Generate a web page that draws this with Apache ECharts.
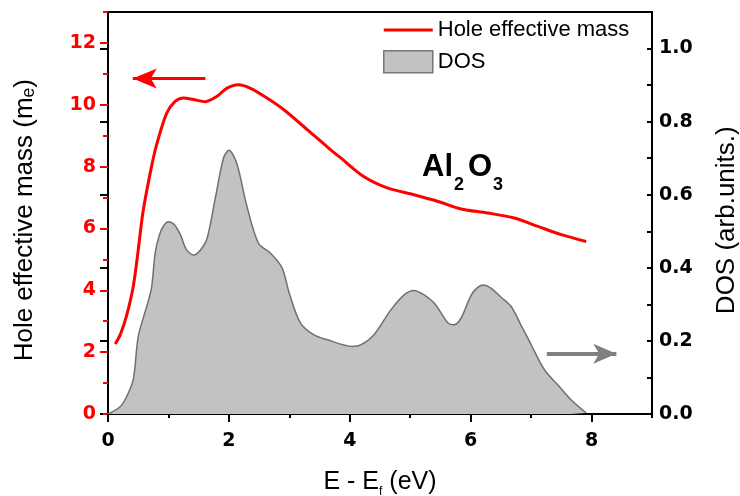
<!DOCTYPE html>
<html>
<head>
<meta charset="utf-8">
<script src="https://cdn.jsdelivr.net/npm/echarts@6/dist/echarts.min.js"></script>
<style>
  html, body { margin: 0; padding: 0; background: #fff; }
  #chart { width: 740px; height: 496px; }
</style>
</head>
<body>
<div id="chart"></div>
<script>
// Hole effective mass (m_e) versus E - E_f (eV)
const massEnergy = [0.12, 0.21, 0.31, 0.42, 0.50, 0.58, 0.72, 0.81, 0.97, 1.11, 1.25, 1.41, 1.61, 1.80, 1.97, 2.16,
  2.35, 2.63, 2.91, 3.30, 3.65, 3.85, 4.23, 4.62, 5.06, 5.45, 5.84, 6.28, 6.72, 7.11, 7.50, 7.91];
const holeMass = [2.26, 2.60, 3.20, 4.15, 5.30, 6.55, 8.00, 8.75, 9.72, 10.11, 10.22, 10.17, 10.10, 10.27, 10.54, 10.65,
  10.54, 10.22, 9.84, 9.19, 8.60, 8.28, 7.68, 7.31, 7.09, 6.88, 6.63, 6.50, 6.34, 6.07, 5.80, 5.58];

// Density of states (arb. units) versus E - E_f (eV)
const dosEnergy = [0.00, 0.20, 0.31, 0.42, 0.50, 0.64, 0.72, 0.78, 0.85, 0.92, 1.00, 1.10, 1.20, 1.30, 1.42, 1.53,
  1.64, 1.78, 1.91, 2.00, 2.13, 2.30, 2.49, 2.69, 2.88, 3.00, 3.18, 3.40, 3.63, 4.04, 4.18, 4.40, 4.68, 4.90, 5.06,
  5.23, 5.40, 5.62, 5.72, 5.84, 6.03, 6.20, 6.34, 6.50, 6.67, 6.83, 7.00, 7.22, 7.44, 7.66, 7.91];
const dosValues = [0.000, 0.020, 0.048, 0.096, 0.212, 0.294, 0.345, 0.440, 0.490, 0.515, 0.526, 0.518, 0.490, 0.449,
  0.435, 0.449, 0.481, 0.595, 0.700, 0.722, 0.686, 0.567, 0.467, 0.440, 0.400, 0.330, 0.250, 0.217, 0.203, 0.185,
  0.189, 0.217, 0.285, 0.326, 0.338, 0.326, 0.303, 0.250, 0.244, 0.262, 0.331, 0.353, 0.344, 0.320, 0.294, 0.244,
  0.190, 0.121, 0.080, 0.039, 0.003];

// Axis ranges
const energyRange = [0, 9];
const massRange = [0, 13];
const dosRange = [0, 1.1];

// Arrows pointing each curve to its axis (data coordinates, tail then tip)
const massArrow = [[1.61, 10.85], [0.41, 10.85]];
const dosArrow = [[7.26, 0.165], [8.41, 0.165]];

const RED = '#ff0000';
const tickFont = { fontFamily: 'DejaVu Sans', fontWeight: 'bold', fontSize: 19 };
const nameFont = 'Liberation Sans';
const NBSP = '\u00a0';

const chart = echarts.init(document.getElementById('chart'), null, { renderer: 'canvas' });

const massData = massEnergy.map((x, i) => [x, holeMass[i]]);
const dosData = dosEnergy.map((x, i) => [x, dosValues[i]]);

chart.setOption({
  animation: false,
  backgroundColor: '#fff',
  grid: {
    left: 108, right: 88, top: 12, bottom: 82,
    show: true, borderColor: '#000', borderWidth: 2,
    outerBoundsMode: 'none'
  },
  legend: {
    left: 383, top: 19, orient: 'vertical',
    itemWidth: 49, itemHeight: 22, itemGap: 9, padding: 0,
    selectedMode: false,
    textStyle: { fontFamily: nameFont, fontSize: 22, color: '#000' },
    data: [
      { name: 'Hole effective mass', icon: 'path://M0,0H49V3H0Z', itemStyle: { color: RED } },
      { name: 'DOS', icon: 'rect', itemStyle: { color: '#c2c2c2', borderColor: '#777', borderWidth: 1.5 } }
    ]
  },
  xAxis: [
    {
      type: 'value', min: energyRange[0], max: energyRange[1], interval: 2, position: 'bottom',
      axisLine: { lineStyle: { color: '#000', width: 2 } },
      axisTick: { length: 8, lineStyle: { color: '#000', width: 2 } },
      axisLabel: Object.assign({ color: '#000', margin: 18, showMaxLabel: false }, tickFont),
      splitLine: { show: false },
      name: '{m|E - E}{s|f}{m| (eV)}',
      nameLocation: 'middle', nameGap: 56, nameMoveOverlap: false,
      nameTextStyle: {
        rich: {
          m: { fontFamily: nameFont, fontSize: 25, lineHeight: 25, verticalAlign: 'top', color: '#000' },
          s: { fontFamily: nameFont, fontSize: 12, lineHeight: 12, verticalAlign: 'top', padding: [16, 0, 0, 0], color: '#000' }
        }
      }
    },
    {
      // minor ticks at every 1 eV
      type: 'value', min: energyRange[0], max: energyRange[1], interval: 1, position: 'bottom',
      axisLine: { show: false },
      axisTick: { length: 4, lineStyle: { color: '#000', width: 2 } },
      axisLabel: { show: false }, splitLine: { show: false }
    }
  ],
  yAxis: [
    {
      type: 'value', min: massRange[0], max: massRange[1], interval: 2, position: 'left',
      axisLine: { show: true, lineStyle: { color: RED, width: 2 } },
      axisTick: { show: true, length: 8, lineStyle: { color: RED, width: 2 } },
      axisLabel: Object.assign({ color: RED, margin: 12, showMaxLabel: false }, tickFont),
      splitLine: { show: false },
      // trailing no-break spaces nudge the centred title towards the axis start
      name: 'Hole effective mass (m\u2091)' + NBSP + NBSP,
      nameLocation: 'middle', nameGap: 70, nameMoveOverlap: false,
      nameTextStyle: { fontFamily: nameFont, fontSize: 26, lineHeight: 26, color: '#000' }
    },
    {
      type: 'value', min: dosRange[0], max: dosRange[1], interval: 0.2, position: 'right',
      axisLine: { show: true, lineStyle: { color: '#000', width: 2 } },
      axisTick: { show: true, inside: true, length: 8, lineStyle: { color: '#000', width: 2 } },
      axisLabel: Object.assign({ color: '#000', margin: 7, showMaxLabel: false,
        formatter: v => v.toFixed(1) }, tickFont),
      splitLine: { show: false },
      name: 'DOS (arb.units.)' + NBSP + NBSP,
      nameLocation: 'middle', nameGap: 62, nameMoveOverlap: false,
      nameTextStyle: { fontFamily: nameFont, fontSize: 26, lineHeight: 26, color: '#000' }
    },
    {
      // minor ticks on the effective-mass axis
      type: 'value', min: massRange[0], max: massRange[1], interval: 1, position: 'left',
      axisLine: { show: false },
      axisTick: { show: true, length: 5, lineStyle: { color: RED, width: 2 } },
      axisLabel: { show: false }, splitLine: { show: false }
    },
    {
      // minor ticks on the DOS axis
      type: 'value', min: dosRange[0], max: dosRange[1], interval: 0.1, position: 'right',
      axisLine: { show: false },
      axisTick: { show: true, inside: true, length: 5, lineStyle: { color: '#000', width: 2 } },
      axisLabel: { show: false }, splitLine: { show: false }
    }
  ],
  series: [
    {
      name: 'DOS', type: 'line', xAxisIndex: 0, yAxisIndex: 1,
      data: dosData, smooth: 0.3, symbol: 'none',
      itemStyle: { color: '#c2c2c2' },
      lineStyle: { color: '#707070', width: 1.5 },
      areaStyle: { color: '#c2c2c2', opacity: 1 },
      markLine: {
        silent: true, symbol: ['none', 'arrow'], symbolSize: [15, 23],
        label: { show: false },
        lineStyle: { color: '#808080', width: 4, type: 'solid' },
        data: [[{ coord: dosArrow[0] }, { coord: dosArrow[1] }]]
      }
    },
    {
      name: 'Hole effective mass', type: 'line', xAxisIndex: 0, yAxisIndex: 0,
      data: massData, smooth: 0.3, symbol: 'none',
      itemStyle: { color: RED },
      lineStyle: { color: RED, width: 3 },
      markLine: {
        silent: true, symbol: ['none', 'arrow'], symbolSize: [15, 24],
        label: { show: false },
        lineStyle: { color: RED, width: 3, type: 'solid' },
        data: [[{ coord: massArrow[0] }, { coord: massArrow[1] }]]
      }
    }
  ],
  graphic: [
    {
      type: 'text', x: 422, y: 152, z: 100,
      style: {
        text: '{m|Al}{s|2}{m|O}{s|3}',
        align: 'left', verticalAlign: 'top',
        rich: {
          m: { fontFamily: nameFont, fontWeight: 'bold', fontSize: 31, lineHeight: 31, verticalAlign: 'top', fill: '#000' },
          s: { fontFamily: nameFont, fontWeight: 'bold', fontSize: 18, lineHeight: 18, verticalAlign: 'top', padding: [24, 4, 0, 1], fill: '#000' }
        }
      }
    }
  ]
});
</script>
</body>
</html>
